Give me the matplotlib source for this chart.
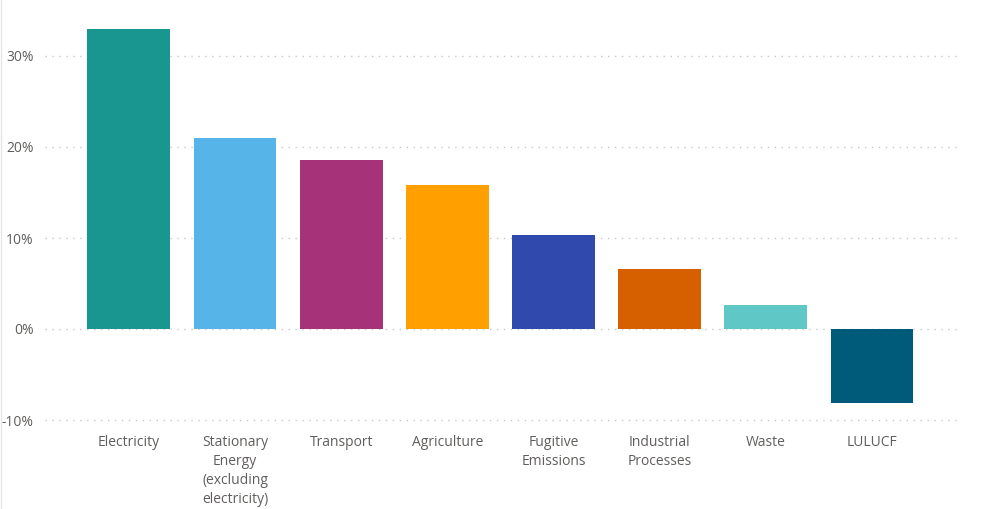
import matplotlib
matplotlib.use("Agg")
import matplotlib.pyplot as plt
from matplotlib.ticker import FuncFormatter

plt.rcParams["font.family"] = ["Open Sans", "DejaVu Sans"]

sectors = ["Electricity", "Stationary\nEnergy\n(excluding\nelectricity)", "Transport",
           "Agriculture", "Fugitive\nEmissions", "Industrial\nProcesses", "Waste", "LULUCF"]
shares = [33.0, 21.0, 18.6, 15.8, 10.3, 6.6, 2.6, -8.1]
colors = ["#199690", "#56B4E9", "#A6337A", "#FFA000", "#3049AD", "#D65F00", "#5FC7C5", "#005A7A"]
yticks = [-10, 0, 10, 20, 30]

TXT = "#605E5C"

fig = plt.figure(figsize=(10, 5.09), dpi=100)
top_px, bot_px = 20, 425
ax = fig.add_axes([0.045, 1 - bot_px / 509, 0.913, (bot_px - top_px) / 509])

x = range(len(sectors))
ax.bar(x, shares, width=0.78, color=colors, zorder=3)

ax.set_xlim(-0.79, 7.81)
ax.set_ylim((329 - bot_px) / 9.1, (329 - top_px) / 9.1)
ax.set_yticks(yticks)
ax.yaxis.set_major_formatter(FuncFormatter(lambda v, p: f"{v:.0f}%"))
ax.set_xticks(list(x))
ax.set_xticklabels(sectors, linespacing=1.38)
ax.tick_params(axis="both", length=0, labelsize=10, labelcolor=TXT)
ax.tick_params(axis="y", pad=8)
ax.tick_params(axis="x", pad=7)
for lab in ax.get_xticklabels():
    lab.set_verticalalignment("top")

ax.grid(axis="y", color="#c8c8c8", linestyle=(0, (1, 4)), linewidth=1, zorder=0)
for s in ax.spines.values():
    s.set_visible(False)

# thin border on the left edge of the visual
fig.add_artist(plt.Line2D([0.001, 0.001], [0, 1], color="#e6e6e6", lw=1))

fig.savefig("out.png", dpi=100, facecolor="white")
